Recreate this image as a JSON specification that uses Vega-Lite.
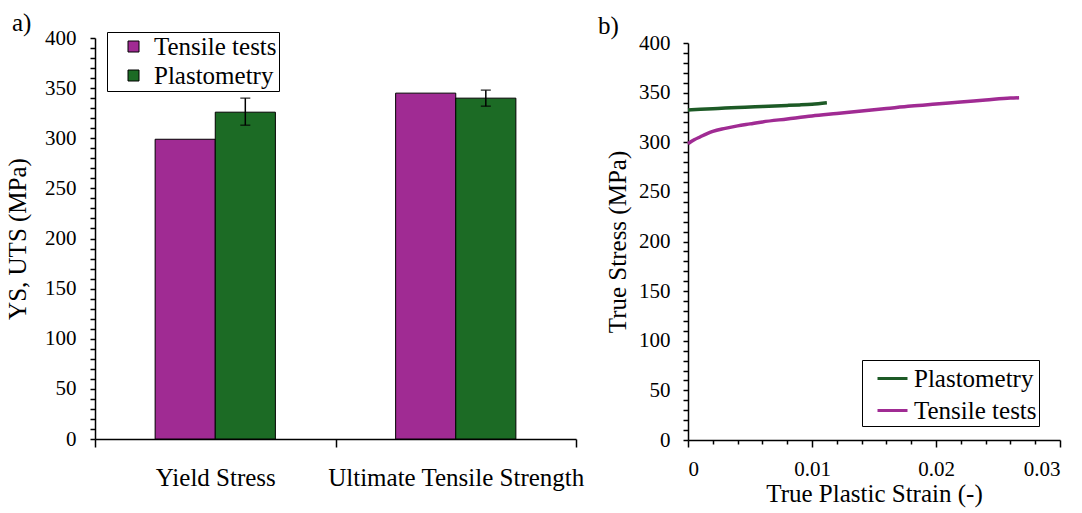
{
  "$schema": "https://vega.github.io/schema/vega-lite/v6.json",
  "padding": {"left": 5, "top": 11, "right": 5, "bottom": 5},
  "background": "white",
  "config": {
    "font": "Liberation Serif",
    "view": {"stroke": null},
    "style": {
      "guide-label": {"font": "Liberation Serif"},
      "guide-title": {"font": "Liberation Serif"},
      "group-title": {"font": "Liberation Serif"}
    },
    "axis": {
      "grid": false,
      "domainColor": "black",
      "domainWidth": 1.5,
      "tickColor": "black",
      "tickWidth": 1.5,
      "labelColor": "black",
      "titleColor": "black",
      "labelFont": "Liberation Serif",
      "titleFont": "Liberation Serif",
      "titleFontWeight": "normal",
      "labelFontSize": 21,
      "titleFontSize": 25,
      "labelOverlap": false,
      "labelLimit": 400
    },
    "legend": {
      "labelFont": "Liberation Serif",
      "labelColor": "black",
      "labelFontSize": 25,
      "labelLimit": 400
    },
    "title": {"font": "Liberation Serif", "fontSize": 25, "fontWeight": "normal", "color": "black"}
  },
  "datasets": {
    "bars": [
      {"metric": "Yield Stress", "method": "Tensile tests", "value": 299, "lo": null, "hi": null},
      {"metric": "Yield Stress", "method": "Plastometry", "value": 326, "lo": 313, "hi": 340},
      {"metric": "Ultimate Tensile Strength", "method": "Tensile tests", "value": 345, "lo": null, "hi": null},
      {"metric": "Ultimate Tensile Strength", "method": "Plastometry", "value": 340, "lo": 332, "hi": 348}
    ],
    "curves": [
      {"series": "Plastometry", "strain": 0.0, "stress": 332.5},
      {"series": "Plastometry", "strain": 0.001, "stress": 333.2},
      {"series": "Plastometry", "strain": 0.002, "stress": 333.8},
      {"series": "Plastometry", "strain": 0.003, "stress": 334.4},
      {"series": "Plastometry", "strain": 0.004, "stress": 334.9},
      {"series": "Plastometry", "strain": 0.005, "stress": 335.5},
      {"series": "Plastometry", "strain": 0.006, "stress": 336.1},
      {"series": "Plastometry", "strain": 0.007, "stress": 336.6},
      {"series": "Plastometry", "strain": 0.008, "stress": 337.1},
      {"series": "Plastometry", "strain": 0.009, "stress": 337.6},
      {"series": "Plastometry", "strain": 0.010, "stress": 338.3},
      {"series": "Plastometry", "strain": 0.0112, "stress": 339.8},
      {"series": "Tensile tests", "strain": 0.0, "stress": 298.5},
      {"series": "Tensile tests", "strain": 0.0005, "stress": 302.5},
      {"series": "Tensile tests", "strain": 0.001, "stress": 305.5},
      {"series": "Tensile tests", "strain": 0.0015, "stress": 308.5},
      {"series": "Tensile tests", "strain": 0.002, "stress": 311},
      {"series": "Tensile tests", "strain": 0.003, "stress": 314},
      {"series": "Tensile tests", "strain": 0.004, "stress": 316.5},
      {"series": "Tensile tests", "strain": 0.005, "stress": 318.5},
      {"series": "Tensile tests", "strain": 0.006, "stress": 320.5},
      {"series": "Tensile tests", "strain": 0.008, "stress": 323.5},
      {"series": "Tensile tests", "strain": 0.010, "stress": 326.5},
      {"series": "Tensile tests", "strain": 0.012, "stress": 329},
      {"series": "Tensile tests", "strain": 0.014, "stress": 331.5},
      {"series": "Tensile tests", "strain": 0.016, "stress": 334},
      {"series": "Tensile tests", "strain": 0.018, "stress": 336.5},
      {"series": "Tensile tests", "strain": 0.020, "stress": 338.5},
      {"series": "Tensile tests", "strain": 0.022, "stress": 340.5},
      {"series": "Tensile tests", "strain": 0.024, "stress": 342.5},
      {"series": "Tensile tests", "strain": 0.026, "stress": 344.5},
      {"series": "Tensile tests", "strain": 0.0267, "stress": 344.8}
    ]
  },
  "spacing": 112,
  "bounds": "flush",
  "resolve": {"scale": {"color": "independent"}, "legend": {"color": "independent"}},
  "hconcat": [
    {
      "width": 481,
      "height": 401,
      "title": {"text": "a)", "anchor": "start", "frame": "group", "dx": -83, "dy": 37, "baseline": "alphabetic", "offset": 8, "font": "Liberation Serif"},
      "data": {"name": "bars"},
      "encoding": {
        "x": {
          "field": "metric", "type": "nominal",
          "sort": ["Yield Stress", "Ultimate Tensile Strength"],
          "scale": {"paddingInner": 0, "paddingOuter": 0},
          "axis": {"title": null, "labelAngle": 0, "tickBand": "extent", "tickSize": 8, "labelPadding": 18, "labelFontSize": 25, "labelFont": "Liberation Serif"}
        },
        "xOffset": {
          "field": "method", "type": "nominal",
          "sort": ["Tensile tests", "Plastometry"],
          "scale": {"paddingInner": 0, "paddingOuter": 1.797}
        },
        "y": {
          "field": "value", "type": "quantitative",
          "scale": {"domain": [0, 400], "nice": false},
          "axis": {
            "title": "YS, UTS (MPa)",
            "values": [0,10,20,30,40,50,60,70,80,90,100,110,120,130,140,150,160,170,180,190,200,210,220,230,240,250,260,270,280,290,300,310,320,330,340,350,360,370,380,390,400],
            "labelExpr": "datum.value % 50 === 0 ? datum.label : ''",
            "labelOverlap": false,
            "labelFont": "Liberation Serif",
            "titleFont": "Liberation Serif",
            "tickSize": 5,
            "labelPadding": 14,
            "titlePadding": 14
          }
        }
      },
      "layer": [
        {
          "mark": {"type": "bar", "stroke": "black", "strokeWidth": 1},
          "encoding": {
            "color": {
              "field": "method", "type": "nominal",
              "scale": {"domain": ["Tensile tests", "Plastometry"], "range": ["#A02B93", "#1C6B25"]},
              "legend": {
                "title": null,
                "orient": "none",
                "legendX": 12,
                "legendY": -6,
                "strokeColor": "black",
                "fillColor": "white",
                "padding": 2,
                "symbolOffset": 12,
                "symbolType": "square",
                "symbolSize": 121,
                "symbolStrokeColor": "black",
                "symbolStrokeWidth": 1,
                "labelOffset": 8,
                "rowPadding": 3,
                "labelFont": "Liberation Serif",
                "labelFontSize": 25
              }
            }
          }
        },
        {
          "transform": [{"filter": "datum.lo != null"}],
          "mark": {"type": "rule", "color": "black", "strokeWidth": 1.5},
          "encoding": {
            "y": {"field": "lo", "type": "quantitative"},
            "y2": {"field": "hi"}
          }
        },
        {
          "transform": [{"filter": "datum.lo != null"}, {"fold": ["lo", "hi"], "as": ["end", "bound"]}],
          "mark": {"type": "tick", "color": "black", "thickness": 1.5, "size": 10, "orient": "horizontal"},
          "encoding": {
            "y": {"field": "bound", "type": "quantitative"}
          }
        }
      ]
    },
    {
      "width": 372,
      "height": 402,
      "title": {"text": "b)", "anchor": "start", "frame": "group", "dx": -90, "dy": 37, "baseline": "alphabetic", "offset": 10, "font": "Liberation Serif"},
      "data": {"name": "curves"},
      "mark": {"type": "line", "strokeWidth": 3.5, "interpolate": "monotone"},
      "encoding": {
        "x": {
          "field": "strain", "type": "quantitative",
          "scale": {"domain": [0, 0.03], "nice": false},
          "axis": {
            "title": "True Plastic Strain (-)",
            "values": [0,0.002,0.004,0.006,0.008,0.01,0.012,0.014,0.016,0.018,0.02,0.022,0.024,0.026,0.028,0.03],
            "format": ".2~f",
            "labelExpr": "abs(datum.value*100 - round(datum.value*100)) < 0.000001 ? datum.label : ''",
            "labelFont": "Liberation Serif",
            "titleFont": "Liberation Serif",
            "tickSize": {"condition": {"test": "abs(datum.value*100 - round(datum.value*100)) < 0.000001", "value": 7}, "value": 4},
            "labelPadding": 11,
            "titlePadding": 2
          }
        },
        "y": {
          "field": "stress", "type": "quantitative",
          "scale": {"domain": [0, 400], "nice": false, "range": [402, 5]},
          "axis": {
            "title": "True Stress (MPa)",
            "values": [0,10,20,30,40,50,60,70,80,90,100,110,120,130,140,150,160,170,180,190,200,210,220,230,240,250,260,270,280,290,300,310,320,330,340,350,360,370,380,390,400],
            "labelExpr": "datum.value % 50 === 0 ? datum.label : ''",
            "labelFont": "Liberation Serif",
            "titleFont": "Liberation Serif",
            "tickSize": 5,
            "labelPadding": 13,
            "titlePadding": 8
          }
        },
        "color": {
          "field": "series", "type": "nominal",
          "scale": {"domain": ["Plastometry", "Tensile tests"], "range": ["#1D5A26", "#A02B93"]},
          "legend": {
            "title": null,
            "orient": "none",
            "legendX": 174,
            "legendY": 322,
            "strokeColor": "black",
            "fillColor": "white",
            "padding": 2,
            "symbolOffset": 12,
            "symbolType": "stroke",
            "symbolSize": 900,
            "symbolStrokeWidth": 3,
            "labelOffset": 5,
            "rowPadding": 2,
            "labelFont": "Liberation Serif",
            "labelFontSize": 25,
            "labelExpr": "datum.label + '\u2002\u2002\u2002'"
          }
        }
      }
    }
  ]
}
